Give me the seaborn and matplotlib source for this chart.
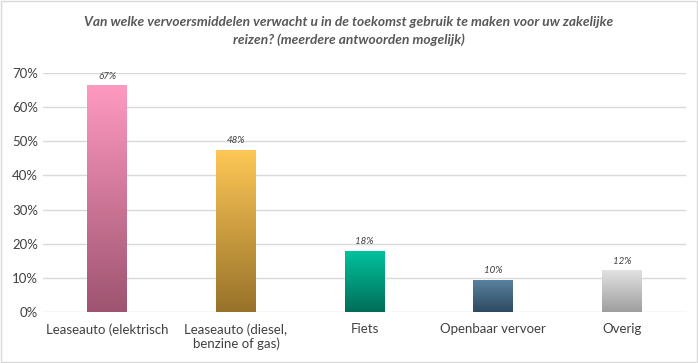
import numpy as np
import pandas as pd
import seaborn as sns
import matplotlib.pyplot as plt
from matplotlib.colors import LinearSegmentedColormap
from matplotlib.patches import Rectangle

# Data
categories = ['Leaseauto (elektrisch', 'Leaseauto (diesel,\nbenzine of gas)', 'Fiets',
              'Openbaar vervoer', 'Overig']
values = [66.5, 47.5, 18.0, 9.5, 12.3]
labels = ['67%', '48%', '18%', '10%', '12%']
# gradient (top colour, bottom colour) per bar
top_colors = ['#FF9AC0', '#FFC857', '#00C49F', '#5A83A2', '#E2E2E2']
bottom_colors = ['#9E5470', '#977229', '#006D58', '#2D4A60', '#9E9E9E']

title = ('Van welke vervoersmiddelen verwacht u in de toekomst gebruik te maken voor uw zakelijke\n'
         'reizen? (meerdere antwoorden mogelijk)')

sns.set_style('white')
plt.rcParams['font.family'] = ['Lato', 'DejaVu Sans']

df = pd.DataFrame({'cat': categories, 'val': values})

fig = plt.figure(figsize=(6.98, 3.63), dpi=100)
ax = fig.add_axes([0.0616, 0.1405, 0.9214, 0.6584])

sns.barplot(data=df, x='cat', y='val', ax=ax, width=0.31, color='white', zorder=2)

# gradient fill clipped to each bar (bottom colour at low y, top colour at high y)
grad = np.linspace(0, 1, 256).reshape(-1, 1)
for patch, top, bot, lab in zip(ax.patches, top_colors, bottom_colors, labels):
    x0, y0 = patch.get_x(), patch.get_y()
    w, h = patch.get_width(), patch.get_height()
    cmap = LinearSegmentedColormap.from_list('g', [bot, top])
    im = ax.imshow(grad, cmap=cmap, extent=[x0, x0 + w, y0, y0 + h],
                   aspect='auto', origin='lower', zorder=3, vmin=0, vmax=1)
    clip = Rectangle((x0, y0), w, h, transform=ax.transData)
    im.set_clip_path(clip)
    patch.set_visible(False)
    ax.text(x0 + w / 2, y0 + h + 1.3, lab, ha='center', va='bottom',
            fontsize=7, style='italic', color='#404040', zorder=4)

ax.set_xlim(-0.5, len(categories) - 0.5)
ax.set_ylim(0, 70)
ax.set_yticks(np.arange(0, 71, 10))
ax.set_yticklabels([f'{t}%' for t in range(0, 71, 10)])
ax.yaxis.grid(True, color='#D9D9D9', linewidth=1, zorder=0)
ax.set_axisbelow(True)
for s in ax.spines.values():
    s.set_visible(False)
ax.set_xlabel('')
ax.set_ylabel('')
ax.tick_params(axis='both', length=0, labelsize=9.5, labelcolor='#404040')
ax.tick_params(axis='x', pad=8)

fig.text(0.5, 0.955, title, ha='center', va='top', fontsize=9.9, fontweight='bold',
         style='italic', color='#595959', linespacing=1.45)

# thin frame around the whole chart
fig.patches.append(Rectangle((0.002, 0.003), 0.996, 0.994, transform=fig.transFigure,
                             fill=False, edgecolor='#D9D9D9', linewidth=1))

fig.savefig('out.png', dpi=100)
